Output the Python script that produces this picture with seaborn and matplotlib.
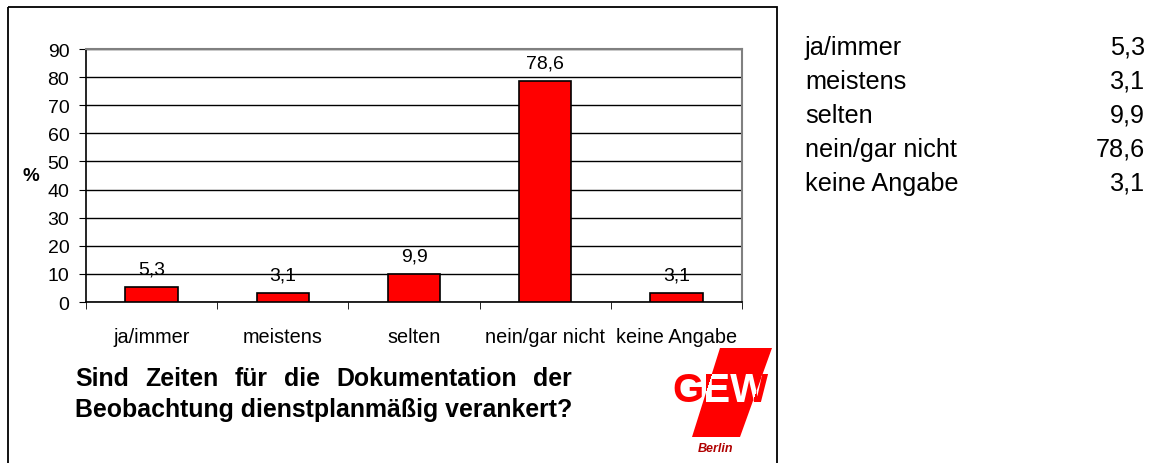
import numpy as np
import pandas as pd
import matplotlib
matplotlib.use("Agg")
import matplotlib.pyplot as plt
import seaborn as sns
from matplotlib.patches import Polygon, Rectangle
from matplotlib.transforms import Bbox, TransformedBbox

# data
categories = ["ja/immer", "meistens", "selten", "nein/gar nicht", "keine Angabe"]
values = [5.3, 3.1, 9.9, 78.6, 3.1]
yticks = list(range(0, 100, 10))
title_lines = ["Sind Zeiten für die Dokumentation der",
               "Beobachtung dienstplanmäßig verankert?"]

df = pd.DataFrame({"Antwort": categories, "Prozent": values})

sns.set_style("white")
plt.rcParams["font.family"] = ["Liberation Sans", "DejaVu Sans"]
plt.rcParams["text.color"] = "black"
plt.rcParams["axes.labelcolor"] = "black"
plt.rcParams["xtick.color"] = "black"
plt.rcParams["ytick.color"] = "black"

W, H = 1152, 464
fig = plt.figure(figsize=(W / 100, H / 100), dpi=100)

# main bar chart
ax = fig.add_axes([86 / W, 1 - 303 / H, (742 - 86) / W, (303 - 50) / H])
sns.barplot(data=df, x="Antwort", y="Prozent", color="#ff0000", saturation=1,
            edgecolor="black", linewidth=1.2, width=0.4, ax=ax, zorder=3)
ax.set_ylim(0, 90)
ax.set_xlim(-0.5, len(categories) - 0.5)
ax.set_yticks(yticks)
ax.yaxis.grid(True, color="black", linewidth=1)
ax.set_axisbelow(True)
for s in ["left", "bottom"]:
    ax.spines[s].set_color("black")
    ax.spines[s].set_linewidth(1.2)
for s in ["top", "right"]:
    ax.spines[s].set_color("#808080")
    ax.spines[s].set_linewidth(1.5)
    ax.spines[s].set_visible(True)
ax.set_xticks(np.arange(-0.5, len(categories), 1), minor=True)
ax.tick_params(axis="x", which="major", length=0, pad=18, labelsize=14.3)
ax.tick_params(axis="x", which="minor", length=5, direction="out", color="black", bottom=True)
ax.tick_params(axis="y", length=5, direction="out", color="black", left=True, pad=7, labelsize=14)
ax.set_xlabel("")
ax.set_ylabel("%", rotation=0, fontweight="bold", fontsize=13.5, labelpad=12, va="center")

for i, v in enumerate(values):
    ax.annotate(f"{v:.1f}".replace(".", ","), (i, v), xytext=(0, 7),
                textcoords="offset points", ha="center", va="bottom", fontsize=14)

# overlay in pixel coordinates for frame, table, title and logo
ov = fig.add_axes([0, 0, 1, 1], zorder=5)
ov.set_xlim(0, W)
ov.set_ylim(H, 0)
ov.axis("off")
ov.patch.set_alpha(0)

ov.add_patch(Rectangle((8, 8), 769, H, fill=False, edgecolor="black", linewidth=1.3))

# value table on the right
for k, (c, v) in enumerate(zip(categories, values)):
    y = 48 + k * 34
    ov.text(805, y, c, fontsize=18.2, va="center", ha="left")
    ov.text(1145, y, f"{v:.1f}".replace(".", ","), fontsize=18.2, va="center", ha="right")

# justified bold title
fig.canvas.draw()
r = fig.canvas.get_renderer()
x0, x1 = 75, 572
for n, line in enumerate(title_lines):
    y = 379 + n * 31
    words = line.split()
    if n < len(title_lines) - 1:
        arts = [ov.text(0, y, w, fontsize=17.9, fontweight="bold", va="center") for w in words]
        widths = [a.get_window_extent(r).width for a in arts]
        gap = (x1 - x0 - sum(widths)) / (len(words) - 1)
        x = x0
        for a, wd in zip(arts, widths):
            a.set_x(x)
            x += wd + gap
    else:
        ov.text(x0, y, line, fontsize=17.9, fontweight="bold", va="center")

# GEW Berlin logo
pts = [(720, 349), (772, 349), (740, 438), (692, 438)]
ov.text(720, 391, "GEW", fontsize=29, fontweight="bold", color="#ff0000",
        ha="center", va="center")
ov.add_patch(Polygon(pts, closed=True, facecolor="#ff0000", edgecolor="none"))
# white letters only inside the slanted band (thin horizontal clip strips)
for yb in np.arange(372, 410, 1.5):
    ym = yb + 0.75
    xl = 720 + (692 - 720) * (ym - 349) / (438 - 349)
    xr = 772 + (740 - 772) * (ym - 349) / (438 - 349)
    t = ov.text(720, 391, "GEW", fontsize=29, fontweight="bold", color="white",
                ha="center", va="center")
    t.set_clip_on(True)
    t.set_clip_box(TransformedBbox(Bbox([[xl, yb], [xr, yb + 1.5]]), ov.transData))
ov.text(716, 449, "Berlin", fontsize=9, fontweight="bold", style="italic",
        color="#b00000", ha="center", va="center")

fig.savefig("out.png", dpi=100, facecolor="white")
